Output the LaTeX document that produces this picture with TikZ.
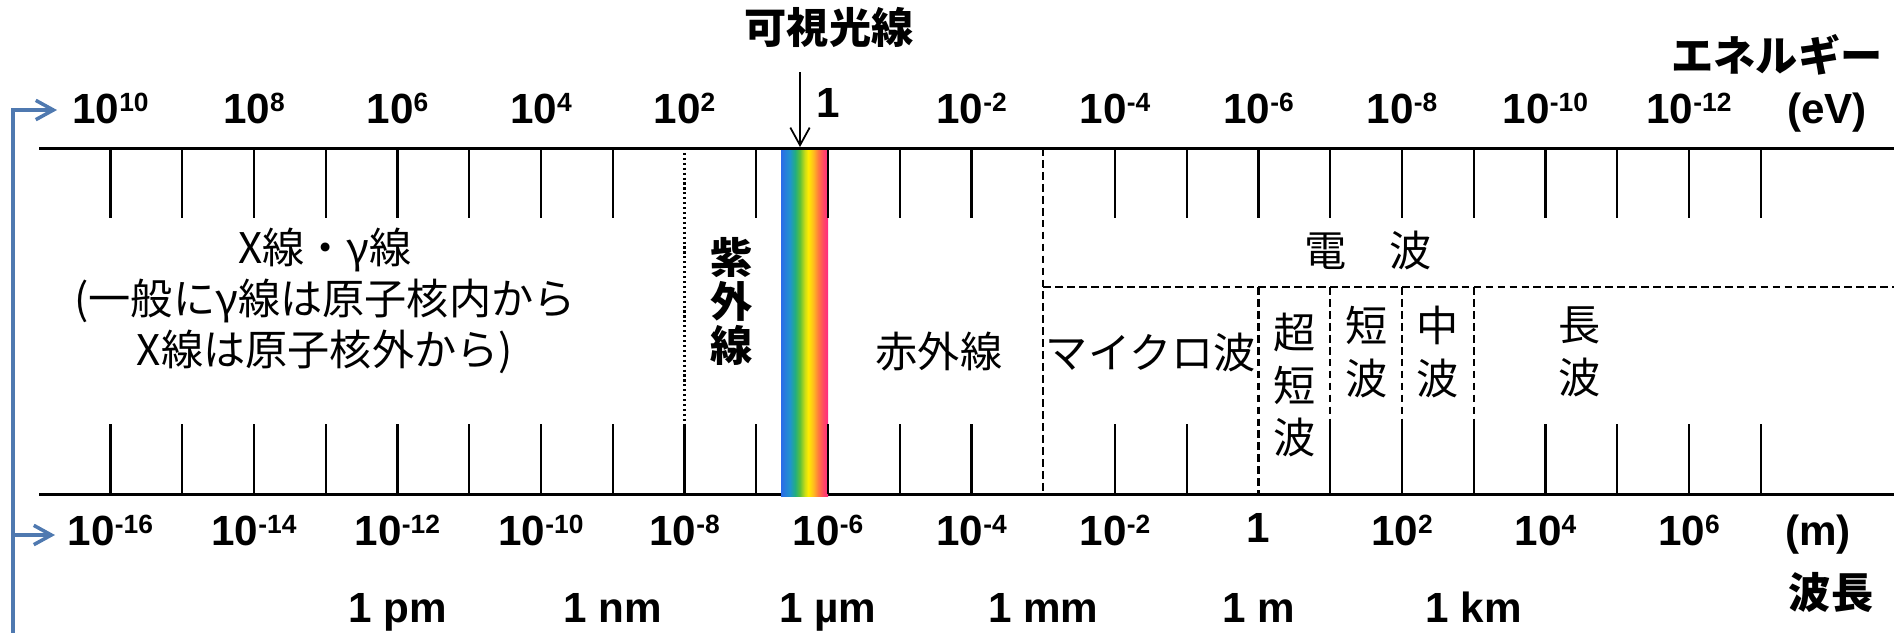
\documentclass[tikz,border=0pt]{standalone}
\usepackage{fontspec}
\setmainfont{Liberation Sans}
\newfontfamily\jp{Noto Sans CJK JP}
\usetikzlibrary{arrows.meta}

\definecolor{brkblue}{RGB}{79,121,176}
\definecolor{rbA}{RGB}{42,108,232}
\definecolor{rbB}{RGB}{32,148,205}
\definecolor{rbC}{RGB}{34,174,128}
\definecolor{rbD}{RGB}{92,192,58}
\definecolor{rbE}{RGB}{205,222,22}
\definecolor{rbF}{RGB}{255,236,0}
\definecolor{rbG}{RGB}{255,186,32}
\definecolor{rbH}{RGB}{255,122,62}
\definecolor{rbI}{RGB}{255,72,100}
\definecolor{rbJ}{RGB}{255,42,130}

% visible light band, left (violet/blue) to right (red)
\pgfdeclarehorizontalshading{visband}{100bp}{color(0bp)=(rbA); color(25bp)=(rbA);
  color(34.5bp)=(rbB); color(40bp)=(rbC); color(45bp)=(rbD); color(50.5bp)=(rbE);
  color(54bp)=(rbF); color(59.5bp)=(rbG); color(64.5bp)=(rbH); color(70bp)=(rbI);
  color(75bp)=(rbJ); color(100bp)=(rbJ)}

% power of ten with a raised exponent
\newcommand\tenp[1]{10\raisebox{3.2pt}{\fontsize{7.5}{8}\selectfont#1}}

\begin{document}
\begin{tikzpicture}[x=0.01cm, y=-0.01cm]

    % Styles for labels and lines
    \tikzset{
      num/.style={inner sep=0pt, anchor=base, font=\rmfamily\bfseries\fontsize{12}{14}\selectfont},
      jtxt/.style={inner sep=0pt, align=center, font=\jp\fontsize{12}{14.5}\selectfont},
      jbold/.style={inner sep=0pt, align=center, font=\jp\bfseries\fontsize{12}{12.5}\selectfont},
      jcol/.style={inner sep=0pt, align=center, font=\jp\fontsize{12}{15}\selectfont},
      axisline/.style={line width=0.85pt},
      tickline/.style={line width=0.6pt},
      sepdash/.style={line width=0.6pt, dash pattern=on 2.2pt off 1.2pt},
      sepdot/.style={line width=0.6pt, dash pattern=on 0.6pt off 0.8pt},
      brk/.style={brkblue, line width=1pt, -{Straight Barb[length=5pt, width=5.5pt]}}
    }

    \useasboundingbox (0,0) rectangle (1894,632);

    % Axis geometry (pixels)
    \def\ytop{148}   % energy axis
    \def\ybot{494}   % wavelength axis
    \def\ticklen{70} % tick length
    \def\xzero{110.5} % first tick
    \def\tstep{71.75} % one decade

    % --- Axes, visible band and ticks ---
    \draw[axisline] (39,\ybot) -- (1894,\ybot);
    \shade[shading=visband] (781,\ytop) rectangle ({\xzero+10*\tstep},496);
    \draw[axisline] (39,\ytop) -- (1894,\ytop);
    \foreach \i in {0,1,2,3,4,5,6,7,9,10,11,12,14,15,16,17,18,19,20,21,22,23}
      \draw[tickline] ({\xzero+\i*\tstep},\ytop) -- ++(0,\ticklen);
    \foreach \i in {0,1,2,3,4,5,6,7,8,9,10,11,12,14,15,17,18,19,20,21,22,23}
      \draw[tickline] ({\xzero+\i*\tstep},\ybot) -- ++(0,-\ticklen);

    % --- Region borders ---
    \draw[sepdot] ({\xzero+8*\tstep},\ytop) -- ({\xzero+8*\tstep},447);
    \draw[sepdash] ({\xzero+13*\tstep},\ytop) -- ({\xzero+13*\tstep},\ybot);
    \draw[sepdash] ({\xzero+13*\tstep},287) -- (1894,287);
    \foreach \i in {16,...,19}
      \draw[sepdash] ({\xzero+\i*\tstep},287) -- ({\xzero+\i*\tstep},\ybot);

    % --- Energy labels (top) ---
    \foreach \i/\p in {0/10,2/8,4/6,6/4,8/2,12/-2,14/-4,16/-6,18/-8,20/-10,22/-12}
      \node[num] (en\i) at ({\xzero+\i*\tstep},123) {\tenp{\p}};
    \node[num] (en10) at ({\xzero+10*\tstep},117) {1};
    \node[num] (ev) at (1827,123) {(eV)};
    \node[jbold] (energy) at (1777,55) {エネルギー};

    % --- Wavelength labels (bottom) ---
    \foreach \i/\p in {0/-16,2/-14,4/-12,6/-10,8/-8,10/-6,12/-4,14/-2,18/2,20/4,22/6}
      \node[num] (wl\i) at ({\xzero+\i*\tstep},545) {\tenp{\p}};
    \node[num] (wl16) at ({\xzero+16*\tstep},542) {1};
    \node[num] (mlab) at (1818,545) {(m)};
    \node[jbold] (wavelen) at (1831,592) {波長};

    % --- Unit row ---
    \foreach \i/\u in {4/{1 pm},7/{1 nm},10/{1 µm},13/{1 mm},16/{1 m},19/{1 km}}
      \node[num] (unit\i) at ({\xzero+\i*\tstep},622) {\u};

    % --- Visible light marker ---
    \node[jbold] (vis) at (829,27) {可視光線};
    \coordinate (visfrom) at (800,72);
    \coordinate (visto) at (800,147);
    \draw[line width=0.5pt, -{Straight Barb[length=5pt, width=5.5pt]}] (visfrom) -- (visto);

    % --- Region names ---
    \node[jtxt] (xray) at (325,301) {X線・γ線\\(一般にγ線は原子核内から\\X線は原子核外から)};
    \node[jbold] (uv) at (732,301) {紫\\外\\線};
    \node[jcol] (ir) at (939,352) {赤外線};
    \node[jcol] (micro) at (1151,352) {マイクロ波};
    \node[jcol] (radio) at (1368,250) {電　波};
    \node[jcol] (vhf) at ({\xzero+16.5*\tstep},385) {超\\短\\波};
    \node[jcol] (sw) at ({\xzero+17.5*\tstep},352) {短\\波};
    \node[jcol] (mw) at ({\xzero+18.5*\tstep},352) {中\\波};
    \node[jcol] (lw) at (1580,352) {長\\波};

    % --- Left bracket with arrows to both scales ---
    \coordinate (brend) at (13,640);
    \coordinate (brtop) at (13,110);
    \coordinate (brbot) at (13,535);
    \coordinate (entip) at (57,110);
    \coordinate (wltip) at (55,535);
    \draw[brk] (brend) -- (brtop) -- (entip);
    \draw[brk] (brbot) -- (wltip);
\end{tikzpicture}
\end{document}
